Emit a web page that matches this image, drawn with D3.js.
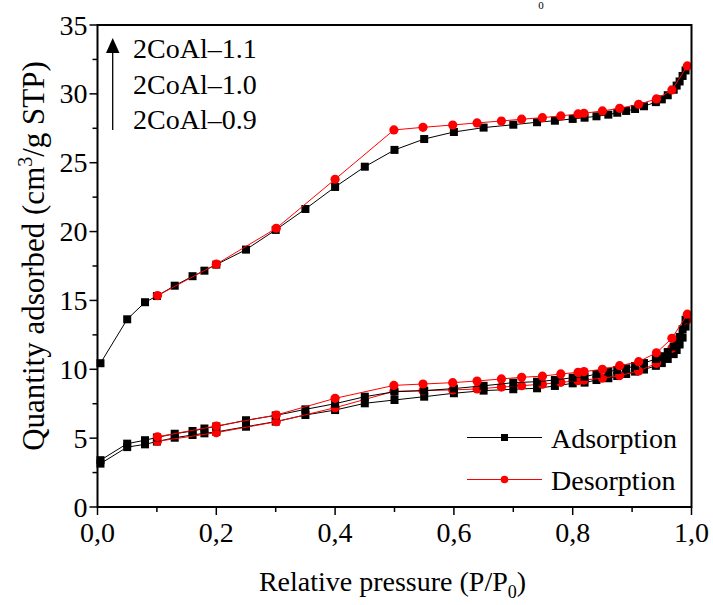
<!DOCTYPE html>
<html>
<head>
<meta charset="utf-8">
<script src="https://cdn.jsdelivr.net/npm/d3@7"></script>
<style>
  html, body { margin: 0; padding: 0; background: #fff; }
  svg { display: block; }
  text { font-family: "Liberation Serif", "Times New Roman", serif; fill: #000; }
</style>
</head>
<body>
<svg id="chart" width="713" height="605"></svg>
<script>
// ---- Data ----
const adsP = [0.005,0.05,0.08,0.1,0.13,0.16,0.18,0.2,0.25,0.3,0.35,0.4,0.45,0.5,0.55,0.6,0.65,0.7,0.74,0.77,0.8,0.82,0.84,0.86,0.875,0.89,0.905,0.92,0.94,0.95,0.96,0.97,0.975,0.98,0.985,0.99];
const desP = [0.993,0.967,0.941,0.911,0.879,0.85,0.819,0.809,0.78,0.749,0.714,0.68,0.639,0.598,0.548,0.499,0.4,0.301,0.2,0.101];

const ads09 = [3.15,4.35,4.55,4.75,5.03,5.23,5.35,5.45,5.83,6.2,6.68,7.04,7.53,7.77,8.01,8.26,8.45,8.55,8.62,8.79,8.98,9.03,9.22,9.35,9.51,9.66,9.83,9.98,10.25,10.45,10.75,11.1,11.4,11.8,12.3,13.1];
const des09 = [13.6,11.52,10.43,9.88,9.54,9.35,9.22,9.17,9.05,8.92,8.81,8.71,8.57,8.5,8.45,8.4,7.21,6.19,5.4,4.77];

const ads10 = [3.4,4.6,4.85,5.05,5.32,5.52,5.7,5.85,6.3,6.65,7.09,7.5,8.01,8.37,8.45,8.6,8.8,9.03,9.1,9.22,9.39,9.46,9.66,9.83,9.95,10.07,10.24,10.45,10.75,10.95,11.25,11.65,11.95,12.35,12.9,13.6];
const des10 = [14.0,12.25,11.2,10.55,10.26,10.0,9.83,9.78,9.66,9.5,9.42,9.3,9.15,9.03,8.93,8.83,7.89,6.68,5.88,5.1];

const ads11 = [10.44,13.63,14.87,15.32,16.07,16.76,17.16,17.6,18.69,20.12,21.64,23.24,24.71,25.93,26.72,27.23,27.55,27.76,27.94,28.05,28.18,28.27,28.37,28.49,28.63,28.76,28.9,29.1,29.4,29.6,29.9,30.3,30.6,30.9,31.3,31.7];
const des11 = [32.03,30.28,29.63,29.24,28.95,28.76,28.59,28.54,28.4,28.27,28.16,28.03,27.89,27.74,27.57,27.38,23.8,20.24,17.63,15.35];

const sampleNames = ["2CoAl\u20131.1","2CoAl\u20131.0","2CoAl\u20130.9"];
const legendNames = ["Adsorption","Desorption"];
const xTicks = [0,0.2,0.4,0.6,0.8,1.0];
const xTickLabels = ["0,0","0,2","0,4","0,6","0,8","1,0"];
const yTicks = [0,5,10,15,20,25,30,35];

// ---- Layout ----
const svg = d3.select("#chart");
const L = 97.5, R = 691.5, T = 25, B = 507;
const x = d3.scaleLinear().domain([0,1]).range([L,R]);
const y = d3.scaleLinear().domain([0,35]).range([B,T]);
const FS = 28;

const series = [
  {p: adsP, v: ads09, type: "ads"},
  {p: desP, v: des09, type: "des"},
  {p: adsP, v: ads10, type: "ads"},
  {p: desP, v: des10, type: "des"},
  {p: adsP, v: ads11, type: "ads"},
  {p: desP, v: des11, type: "des"}
];

const line = d3.line().x(d => x(d[0])).y(d => y(d[1]));
const sq = 8;

series.forEach(s => {
  const pts = s.p.map((p,i) => [p, s.v[i]]);
  const col = s.type === "ads" ? "#000" : "#ff0000";
  svg.append("path").datum(pts).attr("d", line)
    .attr("fill","none").attr("stroke",col).attr("stroke-width",1);
  if (s.type === "ads") {
    svg.append("g").selectAll("rect").data(pts).join("rect")
      .attr("x", d => x(d[0]) - sq/2).attr("y", d => y(d[1]) - sq/2)
      .attr("width", sq).attr("height", sq).attr("fill", "#000");
  } else {
    svg.append("g").selectAll("circle").data(pts).join("circle")
      .attr("cx", d => x(d[0])).attr("cy", d => y(d[1])).attr("r", 4.6)
      .attr("fill", "#ff0000");
  }
});

// ---- Axes ----
const gx = svg.append("g").attr("transform", `translate(0,${B})`);
gx.selectAll("line.tk").data(d3.range(0,11)).join("line")
  .attr("x1", i => x(i/10)).attr("x2", i => x(i/10))
  .attr("y1", 0).attr("y2", i => i % 2 === 0 ? 8 : 5)
  .attr("stroke","#000").attr("stroke-width",1.5);
gx.selectAll("text").data(xTicks).join("text")
  .attr("x", d => x(d)).attr("y", 35)
  .attr("text-anchor","middle").attr("font-size", FS)
  .text((d,i) => xTickLabels[i]);

const gy = svg.append("g").attr("transform", `translate(${L},0)`);
gy.selectAll("line.tk").data(d3.range(0,15)).join("line")
  .attr("y1", i => y(i*2.5)).attr("y2", i => y(i*2.5))
  .attr("x1", 0).attr("x2", i => i % 2 === 0 ? -8 : -5)
  .attr("stroke","#000").attr("stroke-width",1.5);
gy.selectAll("text").data(yTicks).join("text")
  .attr("x", -10).attr("y", d => y(d) + 9.5)
  .attr("text-anchor","end").attr("font-size", FS)
  .text(d => d);

// frame
svg.append("rect").attr("x", L).attr("y", T).attr("width", R-L).attr("height", B-T)
  .attr("fill","none").attr("stroke","#000").attr("stroke-width",2);

// axis titles
const xt = svg.append("text").attr("x", (L+R)/2 - 2).attr("y", 591)
  .attr("text-anchor","middle").attr("font-size", FS);
xt.append("tspan").text("Relative pressure (P/P");
xt.append("tspan").attr("font-size", 18).attr("dy", 7).text("0");
xt.append("tspan").attr("dy", -7).text(")");

const yt = svg.append("text").attr("transform", `translate(44,${(T+B)/2 - 10}) rotate(-90)`)
  .attr("text-anchor","middle").attr("font-size", 31);
yt.append("tspan").text("Quantity adsorbed (cm");
yt.append("tspan").attr("font-size", 20).attr("dy", -12).text("3");
yt.append("tspan").attr("dy", 12).text("/g STP)");

// small remnant glyph at the top edge (kept fully visible)
svg.append("text").attr("x", 541).attr("y", 9).attr("font-size", 11)
  .attr("text-anchor","middle").text("0");

// top-left sample legend with arrow
svg.append("line").attr("x1", 112.7).attr("x2", 112.7).attr("y1", 130).attr("y2", 50)
  .attr("stroke","#000").attr("stroke-width",1.3);
svg.append("path").attr("d", "M106,53 L119.5,53 L112.7,38 Z").attr("fill","#000");
const sampleY = [58, 94, 129];
svg.append("g").selectAll("text").data(sampleNames).join("text")
  .attr("x", 133).attr("y", (d,i) => sampleY[i]).attr("font-size", FS).text(d => d);

// bottom-right legend
const lg = svg.append("g");
const legY = [437.5, 479.5];
legendNames.forEach((name,i) => {
  const col = i === 0 ? "#000" : "#ff0000";
  lg.append("line").attr("x1", 467).attr("x2", 542).attr("y1", legY[i]).attr("y2", legY[i])
    .attr("stroke", col).attr("stroke-width", 1);
  if (i === 0) lg.append("rect").attr("x", 504.5-3.5).attr("y", legY[i]-3.5).attr("width",7).attr("height",7).attr("fill","#000");
  else lg.append("circle").attr("cx", 504.5).attr("cy", legY[i]).attr("r", 3.8).attr("fill","#ff0000");
  lg.append("text").attr("x", 551).attr("y", legY[i] + 10).attr("font-size", FS).text(name);
});
</script>
</body>
</html>
